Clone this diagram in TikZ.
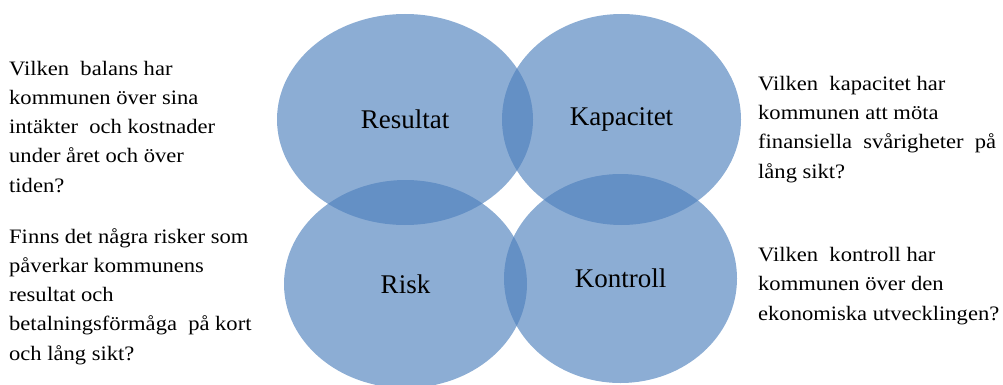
\documentclass[tikz,border=0pt]{standalone}
\usepackage{fontspec}
\setmainfont{Liberation Serif}
\newfontfamily\sidefont[FakeStretch=1.1]{Liberation Serif}
\usetikzlibrary{positioning,shapes}
\definecolor{officeBlue}{RGB}{79,129,189}
\tikzset{area/.style={ellipse,fill=officeBlue,fill opacity=.65,text opacity=1,
		                inner sep=0pt,font=\fontsize{27}{32}\selectfont},
		question/.style={align=left,inner sep=0pt,anchor=base west,
		                font=\sidefont\fontsize{20.5}{29.2}\selectfont},
		every node/.style={align=center}}
\begin{document}
\begin{tikzpicture}[x=1pt,y=-1pt]
				\useasboundingbox (0,0) rectangle (1003,385);
				\node [area, minimum width=256pt, minimum height=211pt] (res) at (405,119.5) {Resultat};
				\node [area, minimum width=239pt, minimum height=211pt] (kap) at (621.5,119.5) {Kapacitet};
				\node [area, minimum width=243pt, minimum height=208pt] (risk) at (405.5,284) {Risk};
				\node [area, minimum width=233pt, minimum height=209pt] (kon) at (620.5,278.5) {Kontroll};
				%questions (anchored at the last line)
				\node [question] (qRes) at (9,192) {Vilken\ \ balans har\\kommunen över sina\\intäkter\ \ och kostnader\\under året och över\\tiden?};
				\node [question] (qRisk) at (9,360) {Finns det några risker som\\påverkar kommunens\\resultat och\\betalningsförmåga\ \ på kort\\och lång sikt?};
				\node [question] (qKap) at (758,178) {Vilken\ \ kapacitet har\\kommunen att möta\\finansiella\ \ svårigheter\ \ på\\lång sikt?};
				\node [question] (qKon) at (758,320) {Vilken\ \ kontroll har\\kommunen över den\\ekonomiska utvecklingen?};
			\end{tikzpicture}
\end{document}
